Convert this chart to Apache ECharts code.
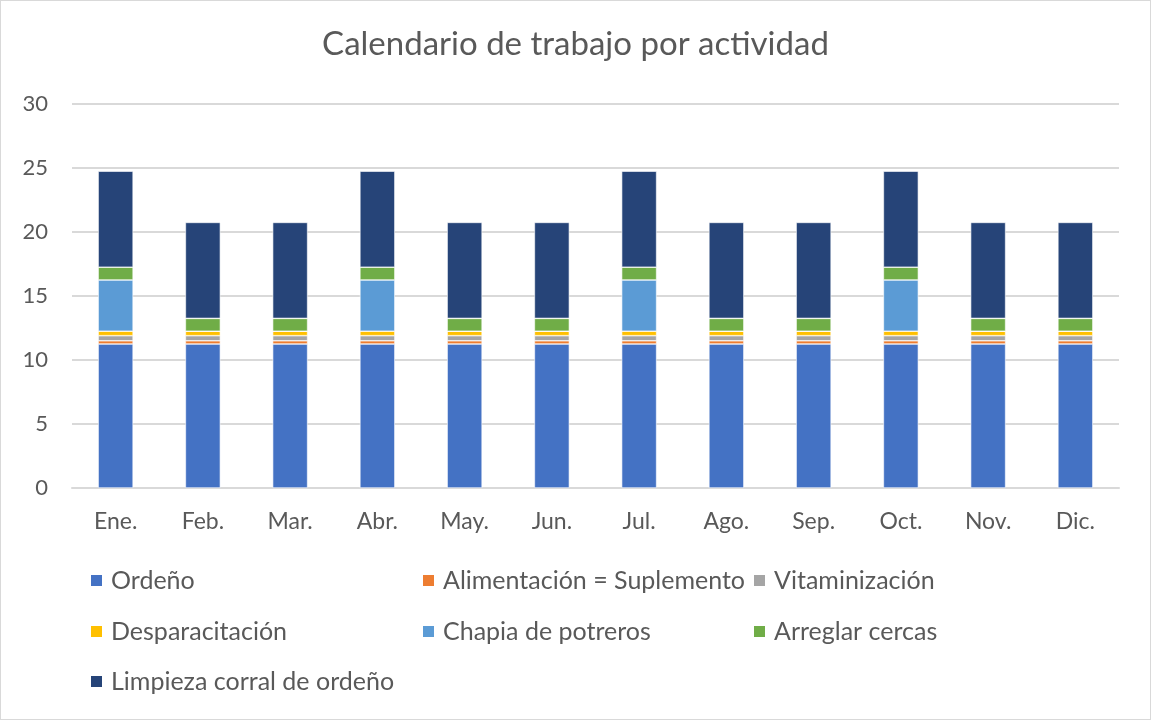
<!DOCTYPE html>
<html>
<head>
<meta charset="utf-8">
<script src="https://cdn.jsdelivr.net/npm/echarts@6/dist/echarts.min.js"></script>
<style>
  html, body { margin: 0; padding: 0; background: #fff; }
  #chart { width: 1149px; height: 718px; border: 1px solid #d9d9d9; }
</style>
</head>
<body>
<div id="chart"></div>
<script>
// Monthly hours per activity
const months = ['Ene.', 'Feb.', 'Mar.', 'Abr.', 'May.', 'Jun.', 'Jul.', 'Ago.', 'Sep.', 'Oct.', 'Nov.', 'Dic.'];
const ordeno        = [11.25, 11.25, 11.25, 11.25, 11.25, 11.25, 11.25, 11.25, 11.25, 11.25, 11.25, 11.25];
const alimentacion  = [0.25, 0.25, 0.25, 0.25, 0.25, 0.25, 0.25, 0.25, 0.25, 0.25, 0.25, 0.25];
const vitaminizacion = [0.4, 0.4, 0.4, 0.4, 0.4, 0.4, 0.4, 0.4, 0.4, 0.4, 0.4, 0.4];
const desparacitacion = [0.35, 0.35, 0.35, 0.35, 0.35, 0.35, 0.35, 0.35, 0.35, 0.35, 0.35, 0.35];
const chapia        = [4, 0, 0, 4, 0, 0, 4, 0, 0, 4, 0, 0];
const arreglar      = [1, 1, 1, 1, 1, 1, 1, 1, 1, 1, 1, 1];
const limpieza      = [7.5, 7.5, 7.5, 7.5, 7.5, 7.5, 7.5, 7.5, 7.5, 7.5, 7.5, 7.5];
const yTicks = [0, 5, 10, 15, 20, 25, 30];

const seriesDefs = [
  { name: 'Ordeño', data: ordeno, color: '#4472C4' },
  { name: 'Alimentación = Suplemento', data: alimentacion, color: '#ED7D31' },
  { name: 'Vitaminización', data: vitaminizacion, color: '#A5A5A5' },
  { name: 'Desparacitación', data: desparacitacion, color: '#FFC000' },
  { name: 'Chapia de potreros', data: chapia, color: '#5B9BD5' },
  { name: 'Arreglar cercas', data: arreglar, color: '#70AD47' },
  { name: 'Limpieza corral de ordeño', data: limpieza, color: '#264478' }
];

// Legend slots: three columns, three rows
const legendPos = [
  [88, 567], [420, 567], [751, 567],
  [88, 618], [420, 618], [751, 618],
  [88, 668]
];

const FONT = 'Lato, "Liberation Sans", sans-serif';
const TEXT = '#595959';

const chart = echarts.init(document.getElementById('chart'));
chart.setOption({
  animation: false,
  title: {
    text: 'Calendario de trabajo por actividad',
    left: 'center',
    top: 22,
    textStyle: { fontFamily: FONT, fontSize: 33, fontWeight: 'normal', color: TEXT }
  },
  grid: { left: 71, right: 31, top: 103, bottom: 231 },
  legend: seriesDefs.map((s, i) => ({
    data: [s.name],
    left: legendPos[i][0],
    top: legendPos[i][1],
    padding: 0,
    itemWidth: 13,
    itemHeight: 13,
    itemGap: 0,
    icon: 'rect',
    textStyle: { fontFamily: FONT, fontSize: 25, color: TEXT, padding: [0, 0, 0, 3] }
  })),
  xAxis: {
    type: 'category',
    data: months,
    axisLine: { lineStyle: { color: '#d9d9d9', width: 2 } },
    axisTick: { show: false },
    axisLabel: { fontFamily: FONT, fontSize: 23, color: TEXT, margin: 22 }
  },
  yAxis: {
    type: 'value',
    min: yTicks[0],
    max: yTicks[yTicks.length - 1],
    interval: yTicks[1] - yTicks[0],
    axisLine: { show: false },
    axisTick: { show: false },
    splitLine: { lineStyle: { color: '#d9d9d9', width: 2 } },
    axisLabel: { fontFamily: FONT, fontSize: 22, color: TEXT, margin: 24 }
  },
  series: seriesDefs.map(s => ({
    name: s.name,
    type: 'bar',
    stack: 'total',
    barWidth: 35,
    data: s.data,
    itemStyle: { color: s.color, borderColor: '#ffffff', borderWidth: 0.6 }
  }))
});
</script>
</body>
</html>
